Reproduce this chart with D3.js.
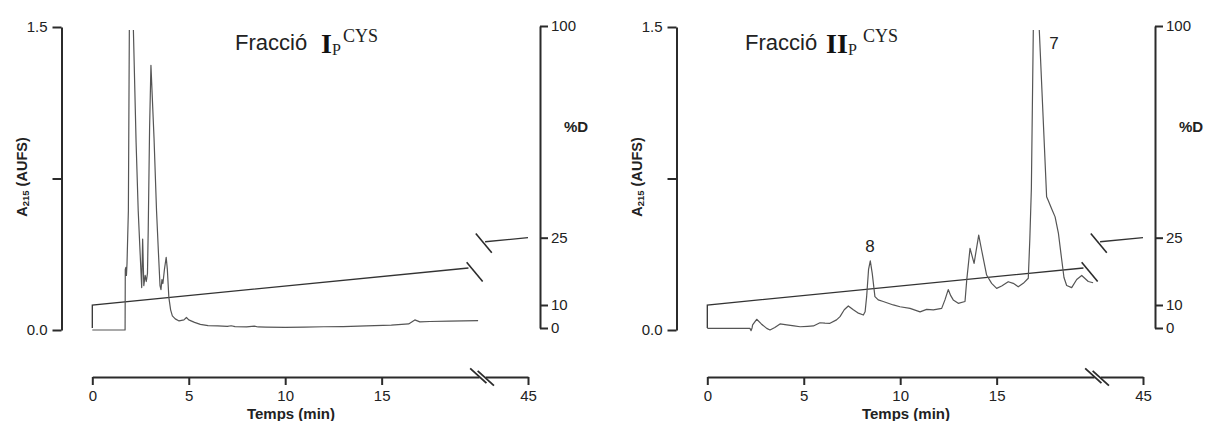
<!DOCTYPE html>
<html>
<head>
<meta charset="utf-8">
<script src="https://cdn.jsdelivr.net/npm/d3@7"></script>
<style>
  html, body { margin: 0; padding: 0; background: #fff; }
  svg { display: block; font-family: "Liberation Sans", Arial, Helvetica, sans-serif; }
</style>
</head>
<body>
<svg id="chart" width="1206" height="421"></svg>
<script>
// ---- Axis ticks ----
const timeTicks = [0, 5, 10, 15, 45];          // min (axis broken after 20 min)
const absTicks = [0, 0.75, 1.5];                // A215 (AUFS)
const absTickLabels = ["0.0", "", "1.5"];
const pctTicks = [0, 10, 25, 100];              // %D

// ---- Gradient programme, [time (min), %D] ----
const gradientBefore = [[0, 0], [0, 10], [19.5, 18.25]];
const gradientAfter = [[23.5, 24.1], [45, 25]];

// ---- Absorbance traces, [time (min), A215] ----
const traceFractionI = [
  [0, 0], [1.70, 0], [1.71, 0.30], [1.74, 0.31], [1.77, 0.27], [1.80, 0.33],
  [1.87, 0.59], [1.92, 1.485], [2.0, 2.0], [2.06, 2.0], [2.13, 1.485],
  [2.27, 0.93], [2.38, 0.59], [2.56, 0.21], [2.61, 0.45], [2.67, 0.22],
  [2.74, 0.27], [2.80, 0.24], [2.86, 0.28], [2.90, 0.5], [2.97, 1.0],
  [3.04, 1.31], [3.20, 0.95], [3.33, 0.59], [3.43, 0.38], [3.51, 0.22],
  [3.56, 0.2], [3.61, 0.25], [3.66, 0.23], [3.74, 0.3], [3.83, 0.36],
  [3.89, 0.3], [3.97, 0.16], [4.06, 0.1], [4.15, 0.07], [4.3, 0.055],
  [4.5, 0.045], [4.75, 0.05], [4.88, 0.062], [5.0, 0.05], [5.3, 0.038],
  [5.6, 0.028], [6.0, 0.022], [6.5, 0.02], [7.0, 0.018], [7.2, 0.021],
  [7.4, 0.017], [8.0, 0.015], [8.4, 0.019], [8.6, 0.015], [9.0, 0.014],
  [10.0, 0.013], [11.0, 0.014], [12.0, 0.016], [13.0, 0.017], [14.2, 0.02],
  [15.5, 0.024], [16.4, 0.03], [16.72, 0.05], [16.98, 0.04], [17.5, 0.042],
  [18.5, 0.044], [20.0, 0.046]
];

const traceFractionII = [
  [0, 0.008], [2.21, 0.008], [2.27, -0.003], [2.32, 0.01], [2.35, 0.025],
  [2.56, 0.053], [2.8, 0.03], [3.08, 0.008], [3.25, 0.0], [3.5, 0.012],
  [3.77, 0.03], [4.12, 0.025], [4.5, 0.02], [4.81, 0.016], [5.2, 0.018],
  [5.5, 0.02], [5.84, 0.036], [6.1, 0.034], [6.36, 0.033], [6.7, 0.05],
  [6.88, 0.066], [7.1, 0.1], [7.31, 0.119], [7.57, 0.10], [7.8, 0.085],
  [8.09, 0.074], [8.18, 0.09], [8.26, 0.165], [8.36, 0.3], [8.45, 0.342],
  [8.55, 0.28], [8.69, 0.165], [8.86, 0.149], [9.12, 0.141], [9.64, 0.124],
  [9.99, 0.115], [10.51, 0.107], [11.03, 0.09], [11.37, 0.102], [11.72, 0.1],
  [12.15, 0.107], [12.32, 0.149], [12.49, 0.2], [12.62, 0.17], [12.75, 0.149],
  [13.01, 0.132], [13.36, 0.141], [13.45, 0.248], [13.62, 0.404], [13.83, 0.33],
  [14.07, 0.47], [14.22, 0.396], [14.48, 0.272], [14.74, 0.231], [15.0, 0.206],
  [15.26, 0.218], [15.6, 0.239], [15.86, 0.231], [16.12, 0.214], [16.38, 0.231],
  [16.64, 0.256], [16.72, 0.45], [16.8, 0.7], [16.9, 1.485], [17.03, 2.0],
  [17.1, 2.0], [17.21, 1.485], [17.59, 0.66], [17.68, 0.64], [17.85, 0.6],
  [18.03, 0.56], [18.2, 0.48], [18.37, 0.35], [18.49, 0.26], [18.63, 0.22],
  [18.89, 0.21], [19.15, 0.25], [19.41, 0.27], [19.58, 0.255], [19.75, 0.24],
  [20.0, 0.234]
];

// Peak numbers written on fraction II, placed at [time, A215]
const peakLabelsII = [
  { text: "8", t: 8.43, a: 0.386 },
  { text: "7", t: 17.97, a: 1.389 }
];

// ---- Layout ----
const svg = d3.select("#chart");
const INK = "#2b2b2b";
const TRACE = "#555";

// Time axis is linear up to 20 min, then compressed to the 45 min end.
const x = d3.scaleLinear().domain([0, 20, 45]).range([92.3, 478.1, 528]);
const y = d3.scaleLinear().domain([0, 1.5]).range([330, 27]);
const yPct = d3.scaleLinear().domain([0, 10, 25, 100]).range([328, 305, 237.7, 26]);

const panels = [
  { dx: 0, trace: traceFractionI, numeral: "I", titleX: 235, numX: 321, subX: 332, supX: 343, labels: [] },
  { dx: 615, trace: traceFractionII, numeral: "II", titleX: 130, numX: 211, subX: 233, supX: 248, labels: peakLabelsII }
];

const defs = svg.append("defs");
defs.append("clipPath").attr("id", "plotClip")
  .append("rect").attr("x", 80).attr("y", 30).attr("width", 420).attr("height", 320);

function slash(g, cx, cy, len, ux, uy, width) {
  g.append("line")
    .attr("x1", cx - ux * len / 2).attr("y1", cy - uy * len / 2)
    .attr("x2", cx + ux * len / 2).attr("y2", cy + uy * len / 2)
    .attr("stroke", INK).attr("stroke-width", width);
}

panels.forEach(p => {
  const g = svg.append("g").attr("transform", `translate(${p.dx},0)`);

  // Absorbance axis (left)
  const yAxis = d3.axisLeft(y).tickValues(absTicks)
    .tickFormat((d, i) => absTickLabels[i]).tickSize(9).tickSizeOuter(0).tickPadding(5);
  const ga = g.append("g").attr("transform", "translate(61.5,0)").call(yAxis);
  ga.select(".domain").attr("stroke", INK).attr("stroke-width", 2);
  ga.selectAll(".tick line").attr("stroke", INK).attr("stroke-width", 2);
  ga.selectAll(".tick text").attr("fill", "#222").attr("font-size", 15)
    .attr("font-family", "Liberation Sans, Arial, sans-serif");

  const yl = g.append("text").attr("transform", "translate(27,177) rotate(-90)")
    .attr("text-anchor", "middle").attr("font-weight", "bold").attr("font-size", 14.5).attr("fill", "#222");
  yl.append("tspan").text("A");
  yl.append("tspan").attr("font-size", 9.5).attr("dy", 2).text("215");
  yl.append("tspan").attr("dy", -2).text(" (AUFS)");

  // %D axis (right)
  const pAxis = d3.axisRight(yPct).tickValues(pctTicks).tickSize(8).tickSizeOuter(0).tickPadding(3);
  const gp = g.append("g").attr("transform", "translate(540,0)").call(pAxis);
  gp.select(".domain").attr("stroke", INK).attr("stroke-width", 2);
  gp.selectAll(".tick line").attr("stroke", INK).attr("stroke-width", 2);
  gp.selectAll(".tick text").attr("fill", "#222").attr("font-size", 15)
    .attr("font-family", "Liberation Sans, Arial, sans-serif");
  g.append("text").attr("x", 576).attr("y", 132).attr("text-anchor", "middle")
    .attr("font-weight", "bold").attr("font-size", 15).attr("fill", "#222").text("%D");

  // Time axis (bottom) with a break between 20 and 45 min
  const xAxis = d3.axisBottom(x).tickValues(timeTicks).tickSize(8).tickSizeOuter(0).tickPadding(5);
  const gx = g.append("g").attr("transform", "translate(0,377)").call(xAxis);
  gx.select(".domain").attr("stroke", INK).attr("stroke-width", 2);
  gx.selectAll(".tick line").attr("stroke", INK).attr("stroke-width", 2);
  gx.selectAll(".tick text").attr("fill", "#222").attr("font-size", 15)
    .attr("font-family", "Liberation Sans, Arial, sans-serif");
  const bx = x(20);
  g.append("rect").attr("x", bx + 1.5).attr("y", 373).attr("width", 6).attr("height", 8).attr("fill", "#fff");
  slash(g, bx + 0.2, 375.8, 22, 0.74, 0.67, 1.8);
  slash(g, bx + 7.7, 378.3, 22, 0.74, 0.67, 1.8);
  g.append("text").attr("x", 291).attr("y", 419).attr("text-anchor", "middle")
    .attr("font-weight", "bold").attr("font-size", 15).attr("fill", "#222").text("Temps (min)");

  // Gradient line, broken where the time axis is broken
  const gradLine = d3.line().x(d => x(d[0])).y(d => yPct(d[1]));
  [gradientBefore, gradientAfter].forEach(seg => {
    g.append("path").attr("d", gradLine(seg)).attr("fill", "none")
      .attr("stroke", "#333").attr("stroke-width", 1.3);
  });
  const endB = gradientBefore[gradientBefore.length - 1];
  const startA = gradientAfter[0];
  slash(g, x(endB[0]) + 6.2, yPct(endB[1]) + 3.9, 25, 0.64, 0.77, 1.6);
  slash(g, x(startA[0]) - 1.3, yPct(startA[1]) + 1.3, 25, 0.64, 0.77, 1.6);

  // Absorbance trace
  const traceLine = d3.line().x(d => x(d[0])).y(d => y(d[1]));
  g.append("path").attr("d", traceLine(p.trace)).attr("clip-path", "url(#plotClip)")
    .attr("fill", "none").attr("stroke", TRACE).attr("stroke-width", 1.2)
    .attr("stroke-linejoin", "round");

  // Peak numbers
  g.selectAll("text.peak").data(p.labels).enter().append("text").attr("class", "peak")
    .attr("x", d => x(d.t)).attr("y", d => y(d.a)).attr("text-anchor", "middle")
    .attr("font-size", 17).attr("fill", "#222").text(d => d.text);

  // Panel title: Fracció <numeral>_P^CYS
  const t = g.append("text").attr("fill", "#222");
  t.append("tspan").attr("x", p.titleX).attr("y", 50).attr("font-size", 22).text("Fracció");
  t.append("tspan").attr("x", p.numX).attr("y", 53).attr("font-family", "Liberation Serif, Times New Roman, serif")
    .attr("font-weight", "bold").attr("font-size", 28).attr("fill", "#111").text(p.numeral);
  t.append("tspan").attr("x", p.subX).attr("y", 55).attr("font-family", "Liberation Serif, Times New Roman, serif")
    .attr("font-size", 16).text("P");
  t.append("tspan").attr("x", p.supX).attr("y", 42).attr("font-family", "Liberation Serif, Times New Roman, serif")
    .attr("font-size", 18).text("CYS");
});
</script>
</body>
</html>
